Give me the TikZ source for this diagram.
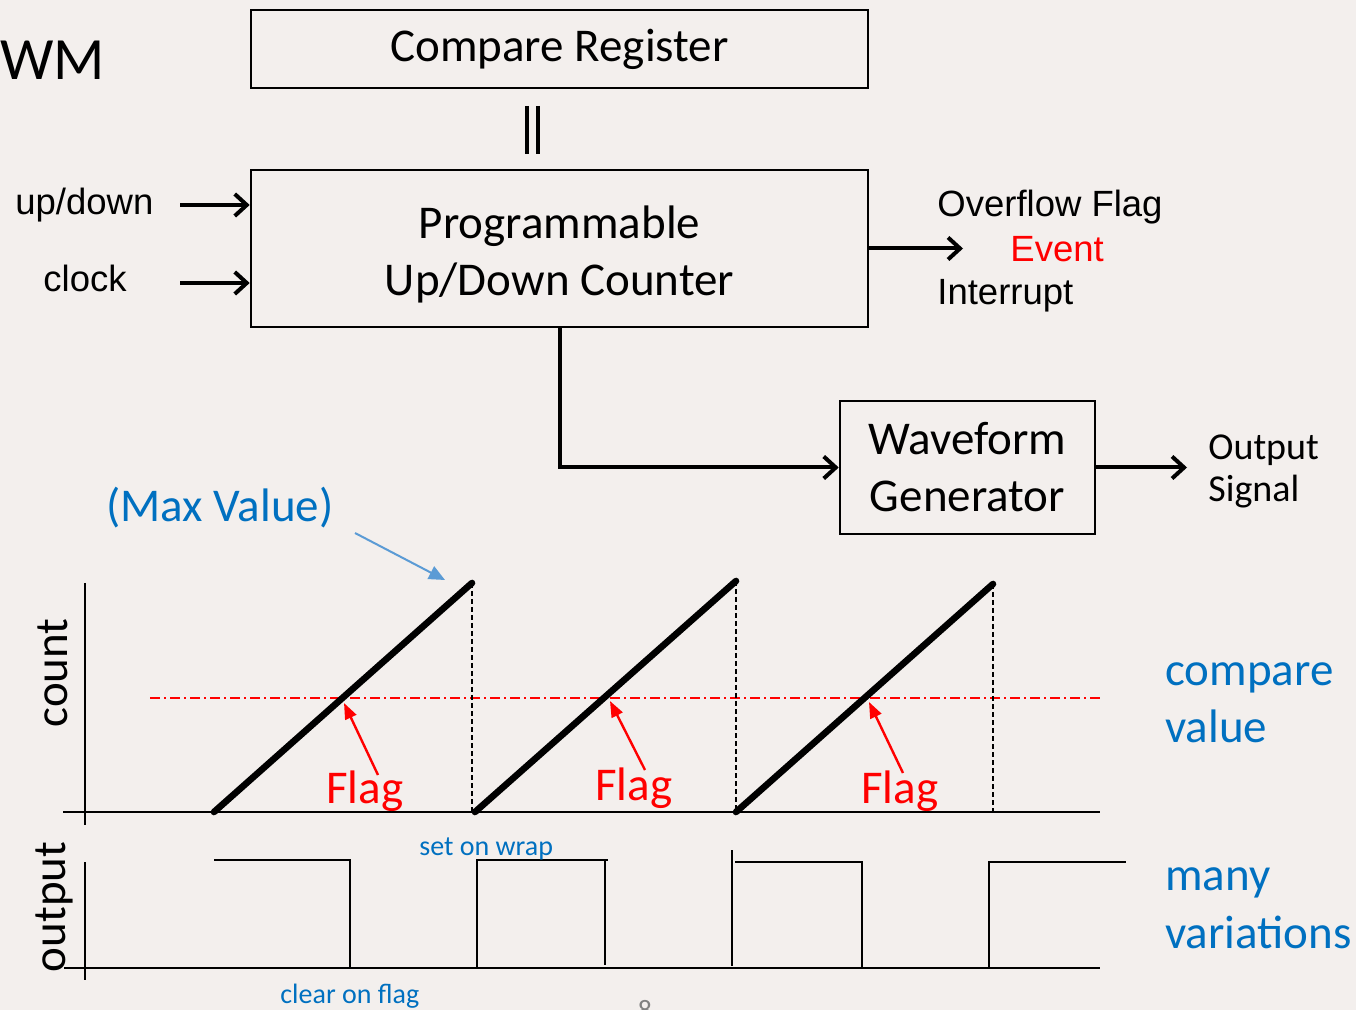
\documentclass[tikz,border=0pt]{standalone}
\usepackage{fontspec}
\setmainfont{Carlito}
\newfontfamily\arialfont{Liberation Sans}
\usetikzlibrary{arrows.meta}

\definecolor{slideblue}{RGB}{0,112,192}
\definecolor{pointblue}{RGB}{91,155,213}
\definecolor{slidebg}{RGB}{243,239,237}

\tikzset{
  block/.style={draw, line width=1.3pt, inner sep=0pt, align=center,
    font=\fontsize{23.5}{28.5}\selectfont},
  sig/.style={line width=2pt, -{Straight Barb[length=6pt,width=11pt,line width=2pt]}},
  txt/.style={inner sep=0pt, anchor=base west},
  arialtxt/.style={txt, font=\arialfont\fontsize{18.25}{22}\selectfont},
  bigtxt/.style={txt, font=\fontsize{23.5}{28.5}\selectfont},
  smalltxt/.style={txt, font=\fontsize{14}{17}\selectfont, text=slideblue},
  flagtxt/.style={bigtxt, text=red},
  flagarrow/.style={red, line width=1.2pt, -{Triangle[length=8pt,width=6pt]}},
  ramp/.style={line width=3.3pt, line cap=round},
  axis/.style={line width=0.8pt},
  pulse/.style={line width=0.75pt},
  wrapline/.style={line width=0.7pt, dash pattern=on 2.5pt off 1.5pt},
  cmpline/.style={red, line width=0.6pt, dash pattern=on 5pt off 2pt on 1pt off 2pt}
}

\begin{document}
\begin{tikzpicture}[x=0.5pt, y=-0.5pt]
\useasboundingbox (0,0) rectangle (1356,1010);
\fill[slidebg] (0,0) rectangle (1356,1010);

% title remnant
\node[txt, font=\fontsize{30}{36}\selectfont] (title) at (0,80) {WM};

% blocks
\node[block, minimum width=308.5pt, minimum height=39pt] (cmpreg) at (559.5,49) {Compare Register};
\node[block, minimum width=308.5pt, minimum height=78.5pt] (counter) at (559.5,248.5) {};
\node[block, draw=none] (countertext) at ([yshift=-3pt]counter.center) {Programmable\\Up/Down Counter};
\node[block, minimum width=127.5pt, minimum height=66.5pt] (wave) at (967.5,467.5) {Waveform\\Generator};

\draw[line width=2.3pt] (527,106) -- (527,154);
\draw[line width=2.3pt] (538,106) -- (538,154);

% inputs
\node[arialtxt] (updown) at (15,215) {up/down};
\node[arialtxt] (clock) at (43,292) {clock};
\coordinate (udstart) at (180,205);
\coordinate (clkstart) at (180,283);
\draw[sig] (udstart) -- (udstart -| counter.west);
\draw[sig] (clkstart) -- (clkstart -| counter.west);

% overflow
\coordinate (ovfend) at (963,248.5);
\draw[sig] (counter.east) -- (ovfend);
\node[arialtxt] (ovf) at (937,217) {Overflow Flag};
\node[arialtxt, text=red] (event) at (1010,262) {Event};
\node[arialtxt] (irq) at (937,305) {Interrupt};

% to waveform generator
\draw[sig] (counter.south) |- (wave.west);
\coordinate (outend) at (1187,467.5);
\draw[sig] (wave.east) -- (outend);
\node[txt, font=\fontsize{19}{21.5}\selectfont] (outsig) at (1208,460) {Output};
\node[txt, font=\fontsize{19}{21.5}\selectfont] (outsig2) at (1208,502) {Signal};

% max value
\node[bigtxt, text=slideblue] (maxval) at (106,522) {(Max Value)};
\coordinate (maxfrom) at (355,533);
\coordinate (maxto) at (445,580);
\draw[pointblue, line width=1pt, -{Triangle[length=8pt,width=7pt]}] (maxfrom) -- (maxto);

% count plot
\node[anchor=base, inner sep=0pt, rotate=90, font=\fontsize{23.5}{28.5}\selectfont] (countlbl) at (67,673) {count};
\draw[axis] (85,583) -- (85,825);
\draw[axis] (63,812) -- (1100,812);
\draw[cmpline] (150,698) -- (1100,698);
\draw[wrapline] (472,583) -- (472,812);
\draw[wrapline] (736,581) -- (736,812);
\draw[wrapline] (993,584) -- (993,812);
\draw[ramp] (214,812) -- (472,583);
\draw[ramp] (475,812) -- (736,581);
\draw[ramp] (736,812) -- (993,584);

\node[flagtxt] (flag1) at (326,803) {Flag};
\node[flagtxt] (flag2) at (595,800) {Flag};
\node[flagtxt] (flag3) at (861,803) {Flag};
\coordinate (hit1) at (344,703);
\coordinate (hit2) at (610,701);
\coordinate (hit3) at (869,702);
\draw[flagarrow] (378,775) -- (hit1);
\draw[flagarrow] (645,770) -- (hit2);
\draw[flagarrow] (903,773) -- (hit3);

\node[bigtxt, text=slideblue] (cmpval) at (1165,685) {compare};
\node[bigtxt, text=slideblue] (cmpval2) at (1165,742) {value};

% output plot
\node[anchor=base, inner sep=0pt, rotate=90, font=\fontsize{23.5}{28.5}\selectfont] (outlbl) at (65,907) {output};
\draw[axis] (85,862) -- (85,980);
\draw[axis] (64,968) -- (1100,968);
\draw[pulse] (214,860) -- (350,860) -- (350,968);
\draw[pulse] (477,968) -- (477,860) -- (608,860);
\draw[pulse] (605,860) -- (605,965);
\draw[pulse] (732,850) -- (732,966);
\draw[pulse] (735,862) -- (862,862) -- (862,968);
\draw[pulse] (989,968) -- (989,862) -- (1126,862);

\node[smalltxt] (setwrap) at (419,855) {set on wrap};
\node[smalltxt] (clrflag) at (280,1003) {clear on flag};

\node[bigtxt, text=slideblue] (many) at (1165,890) {many};
\node[bigtxt, text=slideblue] (variations) at (1165,948) {variations};

\node[anchor=north, inner sep=0pt, text=gray, font=\fontsize{14}{17}\selectfont] (pagenum) at (645,1000) {8};
\end{tikzpicture}
\end{document}
